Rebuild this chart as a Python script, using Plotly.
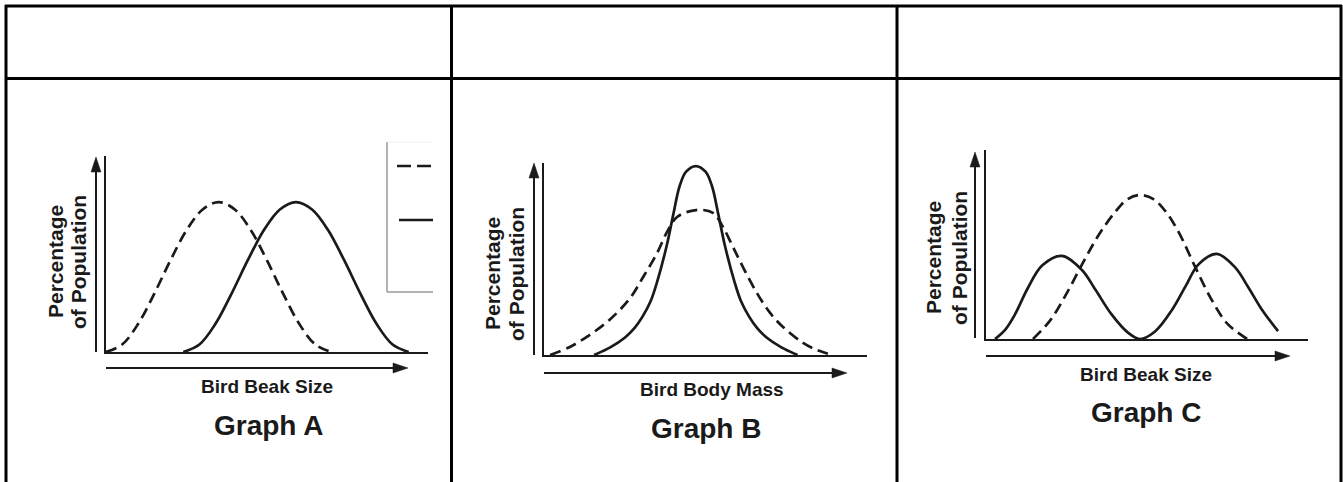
import plotly.graph_objects as go

# ---------------- data (arbitrary units 0-100) ----------------
graph_titles = ["Graph A", "Graph B", "Graph C"]
x_labels = ["Bird Beak Size", "Bird Body Mass", "Bird Beak Size"]
y_label_line1 = "Percentage"
y_label_line2 = "of Population"

A_dashed_x = [0, 5, 10, 15, 20, 25, 30, 35, 40, 45, 50, 55, 60, 65, 70]
A_dashed_y = [0, 3.8, 14.4, 29.8, 46.7, 62.1, 72.7, 76.5, 72.7, 62.1, 46.7, 29.8, 14.4, 3.8, 0]
A_solid_x = [24, 29, 34, 39, 44, 49, 54, 59, 64, 69, 74, 79, 84, 89, 94]
A_solid_y = [0, 3.8, 14.4, 29.8, 46.7, 62.1, 72.7, 76.5, 72.7, 62.1, 46.7, 29.8, 14.4, 3.8, 0]

B_dashed_x = [1.9, 8, 14.2, 20.4, 26.6, 30.7, 35, 38.1, 41.2, 47.1, 52.3, 55.4, 58.5, 61.6, 65.9, 70, 74, 80.2, 84.5, 89.2]
B_dashed_y = [0, 4.2, 10.5, 18.5, 29.5, 40.6, 53.1, 64.1, 71.9, 75.5, 74, 66.7, 56.3, 45.8, 32.3, 21.9, 14.6, 6.3, 2.6, 0]
B_solid_x = [15.5, 20.5, 25, 28, 30.5, 33, 35, 38, 40, 42, 44, 47, 50, 52, 54, 56, 59, 61, 63.5, 66, 69, 73.5, 78.5]
B_solid_y = [0, 4, 9, 14, 20, 28, 38, 57, 73, 88, 95.5, 98.4, 95.5, 88, 73, 57, 38, 28, 20, 14, 9, 4, 0]

C_dashed_x = [14.6, 20, 25, 30, 35, 40, 44, 47.8, 52, 56, 60, 65, 70, 75, 81.1]
C_dashed_y = [0, 10, 24, 40, 55, 67, 74, 76.2, 74, 67, 56, 38, 21, 8, 0]
C_solid_x = [2.8, 6, 9, 13, 17.5, 23.6, 29.8, 34, 39, 44, 47.8, 52.5, 57.8, 62, 66, 71.7, 77.3, 81.4, 85.7, 90.7]
C_solid_y = [0, 5, 13, 27, 39, 44, 36.5, 26, 13, 3.5, 0, 4, 15.5, 28, 39.5, 45, 38, 27.5, 15.5, 4.2]

# ---------------- layout helpers (pixel -> paper) ----------------
W, H = 1343, 482
def px(x):
    return x / W
def py(y):
    return 1 - y / H

INK = "#1a1a1a"
FONT = "Liberation Sans, Arial, sans-serif"

# panel geometry in pixels: (x0, x1, y_bottom, y_top)
panels = [
    (106, 428, 352, 156),
    (544, 867, 355, 163),
    (986, 1308, 339, 150),
]

fig = go.Figure()

series = [
    (A_dashed_x, A_dashed_y, A_solid_x, A_solid_y),
    (B_dashed_x, B_dashed_y, B_solid_x, B_solid_y),
    (C_dashed_x, C_dashed_y, C_solid_x, C_solid_y),
]

for i, (dx, dy, sx, sy) in enumerate(series):
    suffix = "" if i == 0 else str(i + 1)
    fig.add_trace(go.Scatter(x=dx, y=dy, mode="lines", xaxis="x" + suffix, yaxis="y" + suffix,
                             line=dict(color=INK, width=2.7, dash="11px,6px", shape="spline", smoothing=1.0),
                             showlegend=False, hoverinfo="skip"))
    fig.add_trace(go.Scatter(x=sx, y=sy, mode="lines", xaxis="x" + suffix, yaxis="y" + suffix,
                             line=dict(color=INK, width=2.7, shape="spline", smoothing=1.0),
                             showlegend=False, hoverinfo="skip"))

layout = dict(
    width=W, height=H,
    margin=dict(l=0, r=0, t=0, b=0),
    paper_bgcolor="white", plot_bgcolor="rgba(0,0,0,0)",
    showlegend=False,
)
for i, (x0, x1, yb, yt) in enumerate(panels):
    suffix = "" if i == 0 else str(i + 1)
    layout["xaxis" + suffix] = dict(domain=[px(x0), px(x1)], range=[0, 100], anchor="y" + suffix,
                                    showline=True, linecolor=INK, linewidth=2, showgrid=False,
                                    zeroline=False, showticklabels=False, ticks="", fixedrange=True)
    layout["yaxis" + suffix] = dict(domain=[py(yb), py(yt)], range=[0, 100], anchor="x" + suffix,
                                    showline=True, linecolor=INK, linewidth=2, showgrid=False,
                                    zeroline=False, showticklabels=False, ticks="", fixedrange=True)
fig.update_layout(**layout)

shapes = []
def line(x0, y0, x1, y1, color="black", width=3, dash=None):
    d = dict(type="line", xref="paper", yref="paper", x0=px(x0), y0=py(y0), x1=px(x1), y1=py(y1),
             line=dict(color=color, width=width))
    if dash:
        d["line"]["dash"] = dash
    shapes.append(d)

def tri(points, color=INK):
    path = "M " + " L ".join(f"{px(a):.5f},{py(b):.5f}" for a, b in points) + " Z"
    shapes.append(dict(type="path", xref="paper", yref="paper", path=path,
                       fillcolor=color, line=dict(color=color, width=0.5)))

# table borders
line(5, 6, 1342, 6)
line(5, 78.5, 1342, 78.5)
for xv in [6, 451.5, 897, 1341]:
    line(xv, 5, xv, 482)

# arrows: (y-arrow x, y-arrow bottom, y-arrow tip, x-arrow y, x-arrow start, x-arrow tip)
arrows = [
    (96, 352, 157, 368, 106, 408),
    (534, 355, 163, 373, 544, 847),
    (975, 338, 152, 356, 986, 1290),
]
AL, AW = 15, 5
for (yx, yb, ytip, xy, xs, xtip) in arrows:
    line(yx, yb, yx, ytip + AL - 2, color=INK, width=2)
    tri([(yx, ytip), (yx - AW, ytip + AL), (yx + AW, ytip + AL)])
    line(xs, xy, xtip - AL + 2, xy, color=INK, width=2)
    tri([(xtip, xy), (xtip - AL, xy - AW), (xtip - AL, xy + AW)])

# partial legend box in graph A (cropped at right)
line(387, 142, 387, 292, color="#9a9a9a", width=1.5)
line(387, 292, 433, 292, color="#9a9a9a", width=1.5)
line(387, 142, 433, 142, color="#eeeeee", width=1)
line(397, 166, 433, 166, color=INK, width=2.7, dash="14px,6px")
line(399, 220, 433, 220, color=INK, width=2.7)

fig.update_layout(shapes=shapes)

# text
annotations = []
def text(x, y, s, size, bold=True, angle=0):
    annotations.append(dict(xref="paper", yref="paper", x=px(x), y=py(y), text=s, showarrow=False,
                            xanchor="center", yanchor="middle", textangle=angle,
                            font=dict(family=FONT, size=size, color=INK,
                                      weight="bold" if bold else "normal")))

label_pos = [
    # (xlabel x,y), (title x,y), (ylab1 x), (ylab2 x), ylab y
    ((267, 386), (268, 425), 55, 78, 262),
    ((712, 389), (706, 428), 492, 516, 274),
    ((1146, 374), (1146, 412), 933, 959, 258),
]
for i, ((lx, ly), (tx, ty), y1x, y2x, yy) in enumerate(label_pos):
    text(lx, ly, x_labels[i], 19)
    text(tx, ty, graph_titles[i], 28)
    text(y1x, yy, y_label_line1, 21, angle=-90)
    text(y2x, yy, y_label_line2, 21, angle=-90)

fig.update_layout(annotations=annotations)

fig.write_html("out.html", config={"displayModeBar": False, "staticPlot": True},
               post_script="document.body.style.margin='0';document.body.style.overflow='hidden';")
